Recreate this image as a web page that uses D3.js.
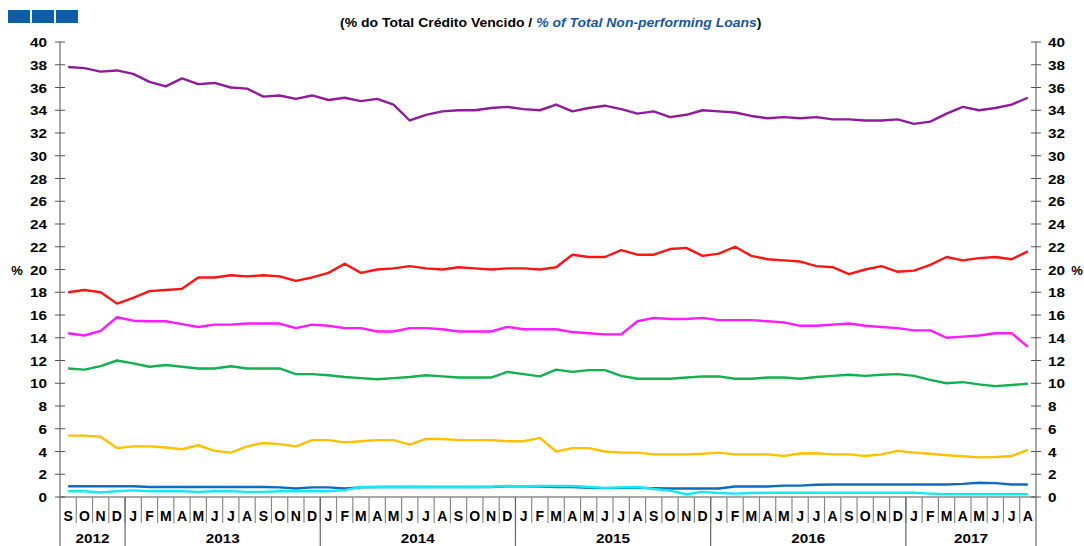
<!DOCTYPE html>
<html>
<head>
<meta charset="utf-8">
<script src="https://cdn.jsdelivr.net/npm/d3@7"></script>
<style>
  body { margin: 0; background: #fff; }
  svg text { font-family: "Liberation Sans", Arial, sans-serif; font-weight: bold; }
</style>
</head>
<body>
<svg id="chart" width="1084" height="546"></svg>
<script>
// Month initials, Sep 2012 .. Aug 2017
const monthLabels = ['S','O','N','D',
  'J','F','M','A','M','J','J','A','S','O','N','D',
  'J','F','M','A','M','J','J','A','S','O','N','D',
  'J','F','M','A','M','J','J','A','S','O','N','D',
  'J','F','M','A','M','J','J','A','S','O','N','D',
  'J','F','M','A','M','J','J','A'];

// Year groups: label, first month index, last month index
const years = [['2012', 0, 3], ['2013', 4, 15], ['2014', 16, 27], ['2015', 28, 39], ['2016', 40, 51], ['2017', 52, 59]];

const yTicks = [0, 2, 4, 6, 8, 10, 12, 14, 16, 18, 20, 22, 24, 26, 28, 30, 32, 34, 36, 38, 40];

// Series values (% of total non-performing loans)
const purple = [37.8, 37.7, 37.4, 37.5, 37.2, 36.5, 36.1, 36.8, 36.3, 36.4, 36.0, 35.9, 35.2, 35.3, 35.0, 35.3,
  34.9, 35.1, 34.8, 35.0, 34.5, 33.1, 33.6, 33.9, 34.0, 34.0, 34.2, 34.3,
  34.1, 34.0, 34.5, 33.9, 34.2, 34.4, 34.1, 33.7, 33.9, 33.4, 33.6, 34.0,
  33.9, 33.8, 33.5, 33.3, 33.4, 33.3, 33.4, 33.2, 33.2, 33.1, 33.1, 33.2,
  32.8, 33.0, 33.7, 34.3, 34.0, 34.2, 34.5, 35.1];
const red = [18.0, 18.2, 18.0, 17.0, 17.5, 18.1, 18.2, 18.3, 19.3, 19.3, 19.5, 19.4, 19.5, 19.4, 19.0, 19.3,
  19.7, 20.5, 19.7, 20.0, 20.1, 20.3, 20.1, 20.0, 20.2, 20.1, 20.0, 20.1,
  20.1, 20.0, 20.2, 21.3, 21.1, 21.1, 21.7, 21.3, 21.3, 21.8, 21.9, 21.2,
  21.4, 22.0, 21.2, 20.9, 20.8, 20.7, 20.3, 20.2, 19.6, 20.0, 20.3, 19.8,
  19.9, 20.4, 21.1, 20.8, 21.0, 21.1, 20.9, 21.6];
const magenta = [14.4, 14.2, 14.6, 15.8, 15.5, 15.45, 15.45, 15.2, 14.95, 15.15, 15.15, 15.25, 15.25, 15.25, 14.85, 15.15,
  15.05, 14.85, 14.85, 14.55, 14.55, 14.85, 14.85, 14.75, 14.55, 14.55, 14.55, 14.95,
  14.75, 14.75, 14.75, 14.5, 14.4, 14.3, 14.3, 15.45, 15.75, 15.65, 15.65, 15.75,
  15.55, 15.55, 15.55, 15.45, 15.35, 15.05, 15.05, 15.15, 15.25, 15.05, 14.95, 14.85,
  14.65, 14.65, 14.0, 14.1, 14.2, 14.4, 14.4, 13.2];
const green = [11.3, 11.2, 11.5, 12.0, 11.75, 11.45, 11.6, 11.45, 11.3, 11.3, 11.5, 11.3, 11.3, 11.3, 10.8, 10.8,
  10.7, 10.55, 10.45, 10.35, 10.45, 10.55, 10.7, 10.6, 10.5, 10.5, 10.5, 11.0,
  10.8, 10.6, 11.2, 11.0, 11.15, 11.15, 10.65, 10.4, 10.4, 10.4, 10.5, 10.6,
  10.6, 10.4, 10.4, 10.5, 10.5, 10.4, 10.55, 10.65, 10.75, 10.65, 10.75, 10.8,
  10.65, 10.3, 10.0, 10.1, 9.9, 9.75, 9.85, 9.95];
const yellow = [5.4, 5.4, 5.3, 4.3, 4.45, 4.45, 4.35, 4.2, 4.55, 4.05, 3.9, 4.45, 4.75, 4.65, 4.45, 5.0,
  5.0, 4.8, 4.9, 5.0, 5.0, 4.6, 5.1, 5.1, 5.0, 5.0, 5.0, 4.9,
  4.9, 5.2, 4.0, 4.3, 4.3, 4.0, 3.9, 3.9, 3.75, 3.75, 3.75, 3.8,
  3.9, 3.75, 3.75, 3.75, 3.6, 3.83, 3.85, 3.75, 3.75, 3.6, 3.75, 4.05,
  3.9, 3.8, 3.67, 3.58, 3.48, 3.52, 3.6, 4.15];
const blue = [0.95, 0.95, 0.95, 0.95, 0.95, 0.88, 0.88, 0.88, 0.88, 0.88, 0.88, 0.88, 0.88, 0.85, 0.75, 0.85,
  0.85, 0.75, 0.85, 0.88, 0.88, 0.88, 0.88, 0.88, 0.88, 0.88, 0.88, 0.95,
  0.95, 0.92, 0.88, 0.88, 0.8, 0.78, 0.8, 0.8, 0.78, 0.75, 0.75, 0.75,
  0.75, 0.92, 0.92, 0.92, 1.0, 1.0, 1.08, 1.1, 1.1, 1.1, 1.1, 1.1,
  1.1, 1.1, 1.1, 1.15, 1.25, 1.22, 1.1, 1.1];
const cyan = [0.5, 0.5, 0.4, 0.5, 0.58, 0.5, 0.5, 0.5, 0.45, 0.5, 0.5, 0.45, 0.45, 0.5, 0.5, 0.5,
  0.5, 0.6, 0.88, 0.88, 0.88, 0.9, 0.88, 0.88, 0.88, 0.88, 0.9, 0.97,
  0.95, 0.97, 0.97, 0.97, 0.88, 0.8, 0.85, 0.88, 0.7, 0.56, 0.24, 0.45,
  0.35, 0.3, 0.35, 0.38, 0.38, 0.38, 0.38, 0.38, 0.38, 0.38, 0.38, 0.38,
  0.38, 0.3, 0.25, 0.25, 0.25, 0.25, 0.25, 0.25];

const seriesList = [
  { values: purple, color: '#8E1B9A' },
  { values: red, color: '#FF1414' },
  { values: magenta, color: '#FF1AFF' },
  { values: green, color: '#12B050' },
  { values: yellow, color: '#FFC000' },
  { values: blue, color: '#0B6CC0' },
  { values: cyan, color: '#14E8F2' }
];

const svg = d3.select('#chart');
const plotLeft = 60, plotRight = 1036, plotTop = 42, plotBottom = 497;
const axisColor = '#8a8a8a';

const x = d3.scaleBand().domain(d3.range(monthLabels.length)).range([plotLeft, plotRight]).padding(0);
const y = d3.scaleLinear().domain([0, 40]).range([plotBottom, plotTop]);
const cx = i => x(i) + x.bandwidth() / 2;

// Header blocks and subtitle
svg.selectAll('rect.block').data([0, 1, 2]).enter().append('rect')
  .attr('class', 'block')
  .attr('x', d => 8 + d * 24).attr('y', 10).attr('width', 22).attr('height', 13)
  .attr('fill', '#0F5DA6');

const sub = svg.append('text').attr('y', 27).style('font-size', '12.5px');
sub.append('tspan').attr('fill', '#000').text('(% do Total Crédito Vencido / ');
sub.append('tspan').attr('fill', '#1558A0').style('font-style', 'italic').text('% of Total Non-performing Loans');
sub.append('tspan').attr('fill', '#000').text(')');
const subW = sub.node().getComputedTextLength();
sub.attr('transform', `translate(340,0) scale(${422 / subW},1)`);

// Axes lines
svg.append('line').attr('x1', plotLeft).attr('x2', plotLeft).attr('y1', plotTop).attr('y2', 546)
  .attr('stroke', axisColor).attr('stroke-width', 1.5);
svg.append('line').attr('x1', plotRight).attr('x2', plotRight).attr('y1', plotTop).attr('y2', 546)
  .attr('stroke', axisColor).attr('stroke-width', 1.5);
svg.append('line').attr('x1', plotLeft).attr('x2', plotRight).attr('y1', plotBottom).attr('y2', plotBottom)
  .attr('stroke', axisColor).attr('stroke-width', 1.5);

// Y ticks, both sides
[plotLeft, plotRight].forEach((ax, k) => {
  const g = svg.append('g');
  g.selectAll('line').data(yTicks).enter().append('line')
    .attr('x1', ax - 5).attr('x2', ax + 5)
    .attr('y1', d => y(d)).attr('y2', d => y(d))
    .attr('stroke', '#555').attr('stroke-width', 1);
  g.selectAll('text').data(yTicks).enter().append('text')
    .attr('x', k === 0 ? ax - 13 : ax + 12)
    .attr('y', d => y(d) + 5)
    .attr('text-anchor', k === 0 ? 'end' : 'start')
    .style('font-size', '13px')
    .attr('textLength', d => String(d).length * 8.5)
    .attr('lengthAdjust', 'spacingAndGlyphs')
    .text(d => d);
});

svg.append('text').attr('x', 17).attr('y', 275).attr('text-anchor', 'middle').style('font-size', '13px').text('%');
svg.append('text').attr('x', 1077).attr('y', 275).attr('text-anchor', 'middle').style('font-size', '13px').text('%');

// Month separators and labels
svg.append('g').selectAll('line').data(d3.range(1, monthLabels.length)).enter().append('line')
  .attr('x1', d => x(d)).attr('x2', d => x(d))
  .attr('y1', plotBottom).attr('y2', 523)
  .attr('stroke', axisColor).attr('stroke-width', 1.2);
svg.append('g').selectAll('text').data(monthLabels).enter().append('text')
  .attr('x', (d, i) => cx(i)).attr('y', 521)
  .attr('text-anchor', 'middle').style('font-size', '14px')
  .text(d => d);

// Year separators and labels
svg.append('g').selectAll('line').data(years.slice(1)).enter().append('line')
  .attr('x1', d => x(d[1])).attr('x2', d => x(d[1]))
  .attr('y1', plotBottom).attr('y2', 546)
  .attr('stroke', '#666').attr('stroke-width', 1.2);
svg.append('g').selectAll('text').data(years).enter().append('text')
  .attr('x', d => (x(d[1]) + x(d[2]) + x.bandwidth()) / 2).attr('y', 543)
  .attr('text-anchor', 'middle').style('font-size', '13px')
  .attr('textLength', 34).attr('lengthAdjust', 'spacingAndGlyphs')
  .text(d => d[0]);

// Lines
const line = d3.line().x((d, i) => cx(i)).y(d => y(d));
svg.append('g').selectAll('path').data(seriesList).enter().append('path')
  .attr('d', d => line(d.values))
  .attr('fill', 'none')
  .attr('stroke', d => d.color)
  .attr('stroke-width', 2.4)
  .attr('stroke-linejoin', 'round');
</script>
</body>
</html>
